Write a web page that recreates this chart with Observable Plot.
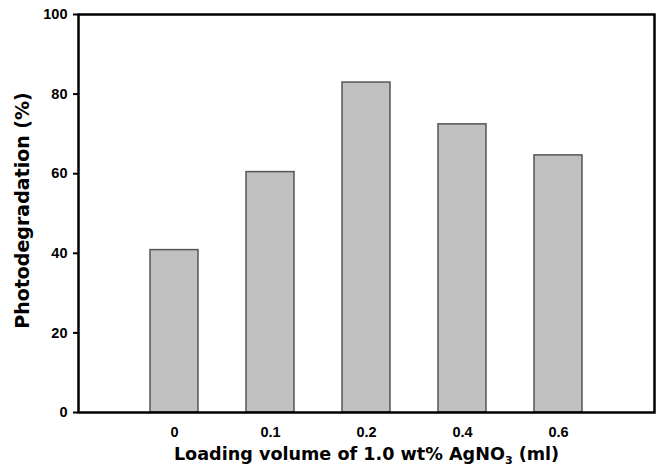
<!DOCTYPE html>
<html>
<head>
<meta charset="utf-8">
<script src="https://cdn.jsdelivr.net/npm/d3@7"></script>
<script src="https://cdn.jsdelivr.net/npm/@observablehq/plot@0.6"></script>
<style>
  html, body { margin: 0; padding: 0; background: #fff; }
</style>
</head>
<body>
<div id="chart"></div>
<script>
const categories = ["0", "0.1", "0.2", "0.4", "0.6"];
const values = [40.8, 60.4, 82.9, 72.4, 64.6];
const yTicks = [0, 20, 40, 60, 80, 100];
const yTitle = "Photodegradation (%)";
const xTitleParts = ["Loading volume of 1.0 wt% AgNO", "3", " (ml)"];

const data = categories.map((c, i) => ({cat: c, pos: i + 1, value: values[i]}));

const chart = Plot.plot({
  width: 661,
  height: 473,
  marginLeft: 78,
  marginRight: 7,
  marginTop: 14,
  marginBottom: 61,
  style: {fontFamily: "'Liberation Sans', Arial, sans-serif", background: "#fff", color: "black"},
  x: {domain: [0, categories.length + 1], axis: null},
  y: {domain: [0, 100], axis: null},
  marks: [
    Plot.rect(data, {
      x1: d => d.pos - 0.25,
      x2: d => d.pos + 0.25,
      y1: 0,
      y2: "value",
      fill: "#c0c0c0",
      stroke: "#555",
      strokeWidth: 1.5
    }),
    Plot.axisY({
      ticks: yTicks,
      tickSize: 5,
      tickPadding: 6,
      tickFormat: d => String(d),
      label: null,
      strokeWidth: 2,
      stroke: "black",
      className: "ytick"
    }),
    Plot.axisX({
      ticks: data.map(d => d.pos),
      tickSize: 0,
      tickPadding: 14,
      tickFormat: p => categories[p - 1],
      label: null,
      className: "xtick"
    }),
    Plot.frame({stroke: "black", strokeWidth: 2.5}),
    Plot.text([yTitle], {
      frameAnchor: "left",
      dx: -56,
      dy: -3,
      rotate: -90,
      textAnchor: "middle",
      text: d => d,
      fontSize: 19,
      fontWeight: "bold",
      fontFamily: "'DejaVu Sans', sans-serif",
      fill: "black"
    }),
    Plot.text([xTitleParts.join("")], {
      frameAnchor: "bottom",
      dy: 47,
      textAnchor: "middle",
      text: d => d,
      fontSize: 17.6,
      fontWeight: "bold",
      fontFamily: "'DejaVu Sans', sans-serif",
      fill: "black",
      className: "xtitle"
    })
  ]
});

// Bold, larger tick labels
d3.select(chart).selectAll("g[aria-label='y-axis tick label'] text, g[aria-label='x-axis tick label'] text")
  .style("font-family", "'Liberation Sans', Arial, sans-serif")
  .style("font-size", "14.5px")
  .style("font-weight", "bold")
  .style("fill", "black");

// Render subscript 3 in AgNO3
d3.select(chart).selectAll("g.xtitle text").each(function() {
  const t = d3.select(this);
  t.text(null);
  t.append("tspan").text(xTitleParts[0]);
  t.append("tspan").attr("font-size", 11).attr("dy", 4).text(xTitleParts[1]);
  t.append("tspan").attr("dy", -4).text(xTitleParts[2]);
});

document.getElementById("chart").appendChild(chart);
</script>
</body>
</html>
